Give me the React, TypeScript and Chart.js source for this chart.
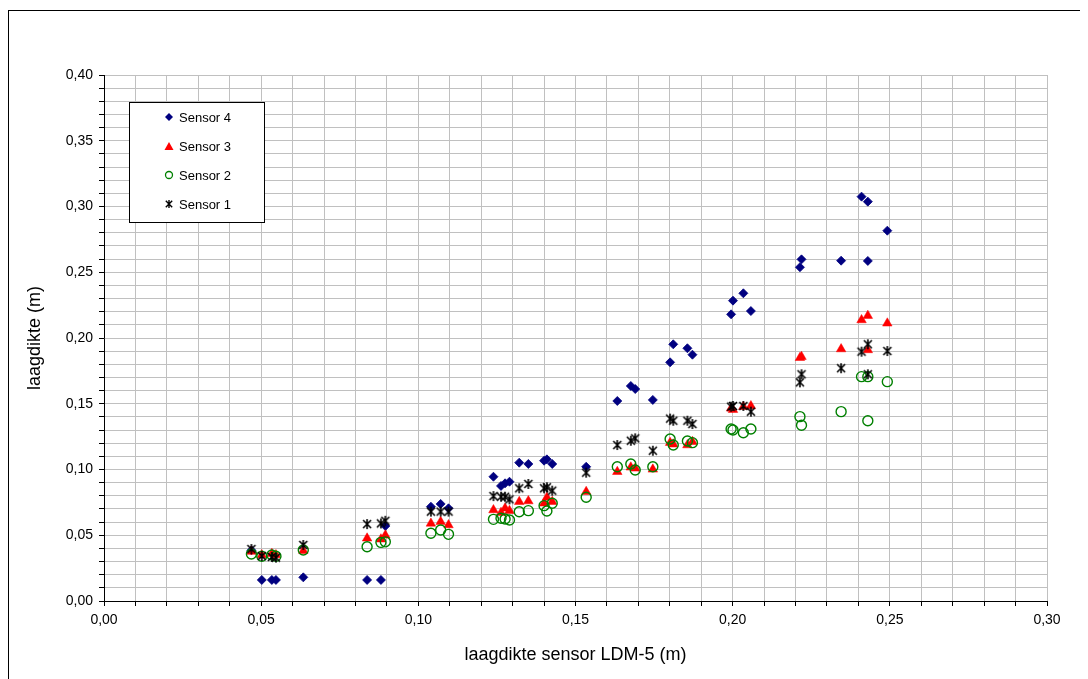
import React, { useEffect, useRef } from 'react';
import { Chart, registerables } from 'chart.js';

Chart.register(...registerables);

// Layer thickness measured by the LDM-5 reference sensor (m)
const ldm5 = [
  0.0469, 0.0502, 0.0534, 0.0547, 0.0634, 0.0837, 0.0881, 0.0895,
  0.1040, 0.1071, 0.1096, 0.1239, 0.1263, 0.1276, 0.1290, 0.1321,
  0.1350, 0.1400, 0.1409, 0.1426, 0.1534, 0.1633, 0.1676, 0.1690,
  0.1746, 0.1801, 0.1811, 0.1856, 0.1872, 0.1995, 0.2001, 0.2034,
  0.2058, 0.2214, 0.2219, 0.2345, 0.2410, 0.2430, 0.2430, 0.2492,
];

// Layer thickness per sensor (m), same order as ldm5
const sensor4 = [
  0.0385, 0.0160, 0.0160, 0.0160, 0.0180, 0.0160, 0.0160, 0.0570,
  0.0717, 0.0738, 0.0705, 0.0945, 0.0875, 0.0895, 0.0907, 0.1052,
  0.1042, 0.1067, 0.1077, 0.1042, 0.1021, 0.1521, 0.1635, 0.1612,
  0.1529, 0.1815, 0.1952, 0.1922, 0.1873, 0.2180, 0.2284, 0.2340,
  0.2205, 0.2538, 0.2598, 0.2588, 0.3075, 0.3037, 0.2586, 0.2816,
];
const sensor3 = [
  0.0376, 0.0350, 0.0360, 0.0350, 0.0383, 0.0477, 0.0470, 0.0500,
  0.0590, 0.0603, 0.0578, 0.0692, 0.0672, 0.0705, 0.0687, 0.0755,
  0.0760, 0.0743, 0.0788, 0.0755, 0.0831, 0.0983, 0.1017, 0.1009,
  0.1001, 0.1204, 0.1192, 0.1186, 0.1211, 0.1465, 0.1455, 0.1478,
  0.1483, 0.1850, 0.1858, 0.1916, 0.2137, 0.2170, 0.1909, 0.2112,
];
const sensor2 = [
  0.0357, 0.0340, 0.0350, 0.0340, 0.0388, 0.0413, 0.0446, 0.0450,
  0.0515, 0.0540, 0.0507, 0.0621, 0.0629, 0.0624, 0.0616, 0.0679,
  0.0687, 0.0725, 0.0684, 0.0743, 0.0789, 0.1021, 0.1042, 0.0996,
  0.1021, 0.1232, 0.1186, 0.1217, 0.1204, 0.1308, 0.1300, 0.1280,
  0.1308, 0.1402, 0.1336, 0.1440, 0.1706, 0.1706, 0.1371, 0.1668,
];
const sensor1 = [
  0.0395, 0.0342, 0.0335, 0.0330, 0.0426, 0.0585, 0.0590, 0.0610,
  0.0680, 0.0680, 0.0680, 0.0798, 0.0793, 0.0793, 0.0773, 0.0857,
  0.0890, 0.0857, 0.0865, 0.0839, 0.0976, 0.1186, 0.1219, 0.1237,
  0.1143, 0.1387, 0.1371, 0.1371, 0.1346, 0.1478, 0.1483, 0.1483,
  0.1440, 0.1663, 0.1724, 0.1770, 0.1896, 0.1952, 0.1724, 0.1901,
];

const seriesNames = ['Sensor 4', 'Sensor 3', 'Sensor 2', 'Sensor 1'];
const xTickLabels = ['0,00', '0,05', '0,10', '0,15', '0,20', '0,25', '0,30'];
const yTickLabels = ['0,00', '0,05', '0,10', '0,15', '0,20', '0,25', '0,30', '0,35', '0,40'];
const xTitle = 'laagdikte sensor LDM-5 (m)';
const yTitle = 'laagdikte (m)';

const NAVY = '#000080';
const RED = '#ff0000';
const GREEN = '#008000';
const BLACK = '#000000';
const GRID = '#c0c0c0';
const FONT = "'Liberation Sans', Arial, sans-serif";

function makeAsterisk(size: number, lw: number): HTMLCanvasElement {
  const c = document.createElement('canvas');
  c.width = size;
  c.height = size;
  const g = c.getContext('2d')!;
  const h = size / 2;
  const r = h - 1;
  g.strokeStyle = BLACK;
  g.lineWidth = lw;
  g.beginPath();
  g.moveTo(h - r * 0.8, h - r * 0.8);
  g.lineTo(h + r * 0.8, h + r * 0.8);
  g.moveTo(h + r * 0.8, h - r * 0.8);
  g.lineTo(h - r * 0.8, h + r * 0.8);
  g.moveTo(h, h - r);
  g.lineTo(h, h + r);
  g.stroke();
  return c;
}

function toPoints(ys: number[]) {
  return ldm5.map((x, i) => ({ x, y: ys[i] }));
}

function drawDiamond(ctx: CanvasRenderingContext2D, x: number, y: number, r: number) {
  ctx.beginPath();
  ctx.moveTo(x, y - r);
  ctx.lineTo(x + r, y);
  ctx.lineTo(x, y + r);
  ctx.lineTo(x - r, y);
  ctx.closePath();
  ctx.fillStyle = NAVY;
  ctx.fill();
}

function drawTriangle(ctx: CanvasRenderingContext2D, x: number, y: number, r: number) {
  ctx.beginPath();
  ctx.moveTo(x, y - r);
  ctx.lineTo(x + r, y + r * 0.8);
  ctx.lineTo(x - r, y + r * 0.8);
  ctx.closePath();
  ctx.fillStyle = RED;
  ctx.fill();
}

function drawRing(ctx: CanvasRenderingContext2D, x: number, y: number, r: number) {
  ctx.beginPath();
  ctx.arc(x, y, r, 0, Math.PI * 2);
  ctx.strokeStyle = GREEN;
  ctx.lineWidth = 1.3;
  ctx.stroke();
}

export default function App() {
  const canvasRef = useRef<HTMLCanvasElement | null>(null);

  useEffect(() => {
    const canvas = canvasRef.current;
    if (!canvas) return;

    const asterisk = makeAsterisk(12, 1.6);
    const legendAsterisk = makeAsterisk(10, 1.4);

    const legendBox = {
      id: 'legendBox',
      afterDraw(chart: Chart) {
        const ctx = chart.ctx;
        const left = 120.5;
        const top = 91.5;
        const w = 135;
        const h = 120;
        ctx.save();
        ctx.fillStyle = '#ffffff';
        ctx.fillRect(left, top, w, h);
        ctx.strokeStyle = BLACK;
        ctx.lineWidth = 1;
        ctx.strokeRect(left, top, w, h);
        const mx = 160;
        const rows = [106, 135.5, 164, 193];
        drawDiamond(ctx, mx, rows[0], 4);
        drawTriangle(ctx, mx, rows[1], 4.5);
        drawRing(ctx, mx, rows[2], 3.5);
        ctx.drawImage(legendAsterisk, mx - 5, rows[3] - 5);
        ctx.fillStyle = BLACK;
        ctx.font = `13px ${FONT}`;
        ctx.textBaseline = 'middle';
        ctx.textAlign = 'left';
        seriesNames.forEach((name, i) => ctx.fillText(name, 170, rows[i] + 1));
        ctx.restore();
      },
    };

    const chart = new Chart(canvas, {
      type: 'scatter',
      data: {
        datasets: [
          {
            label: seriesNames[0],
            data: toPoints(sensor4),
            pointStyle: 'rectRot',
            pointRadius: 4.5,
            backgroundColor: NAVY,
            borderColor: NAVY,
            borderWidth: 0.8,
            order: 4,
          },
          {
            label: seriesNames[1],
            data: toPoints(sensor3),
            pointStyle: 'triangle',
            pointRadius: 5.5,
            backgroundColor: RED,
            borderColor: RED,
            borderWidth: 0.5,
            order: 3,
          },
          {
            label: seriesNames[2],
            data: toPoints(sensor2),
            pointStyle: 'circle',
            pointRadius: 5,
            backgroundColor: 'rgba(0,0,0,0)',
            borderColor: GREEN,
            borderWidth: 1.4,
            order: 2,
          },
          {
            label: seriesNames[3],
            data: toPoints(sensor1),
            pointStyle: asterisk,
            pointRadius: 5,
            backgroundColor: BLACK,
            borderColor: BLACK,
            order: 1,
          },
        ],
      },
      options: {
        animation: false,
        responsive: false,
        events: [],
        layout: { padding: { top: 64, right: 38, left: 0, bottom: 0 } },
        plugins: {
          legend: { display: false },
          tooltip: { enabled: false },
        },
        scales: {
          x: {
            type: 'linear',
            min: 0,
            max: 0.3,
            afterFit: (s: any) => {
              s.height = 80;
            },
            ticks: {
              stepSize: 0.01,
              autoSkip: false,
              maxRotation: 0,
              padding: 6,
              color: BLACK,
              font: { family: FONT, size: 14 },
              callback: (v: any) => {
                const n = Math.round(Number(v) * 100);
                return n % 5 === 0 ? xTickLabels[n / 5] : '';
              },
            },
            grid: { color: GRID, lineWidth: 1, tickColor: BLACK, tickLength: 5 },
            border: { color: BLACK, width: 1 },
            title: {
              display: true,
              text: xTitle,
              color: BLACK,
              font: { family: FONT, size: 18 },
              padding: { top: 0, bottom: 15 },
            },
          },
          y: {
            type: 'linear',
            min: 0,
            max: 0.4,
            afterFit: (s: any) => {
              s.width = 95;
            },
            ticks: {
              stepSize: 0.01,
              autoSkip: false,
              padding: 6,
              color: BLACK,
              font: { family: FONT, size: 14 },
              callback: (v: any) => {
                const n = Math.round(Number(v) * 100);
                return n % 5 === 0 ? yTickLabels[n / 5] : '';
              },
            },
            grid: { color: GRID, lineWidth: 1, tickColor: BLACK, tickLength: 5 },
            border: { color: BLACK, width: 1 },
            title: {
              display: true,
              text: yTitle,
              color: BLACK,
              font: { family: FONT, size: 18 },
              padding: { top: 15, bottom: 0 },
            },
          },
        },
      },
      plugins: [legendBox],
    });

    return () => chart.destroy();
  }, []);

  return (
    <div
      style={{
        position: 'relative',
        top: 2,
        width: 1076,
        height: 670,
        border: '1px solid #000',
        background: '#fff',
      }}
    >
      <canvas ref={canvasRef} width={1076} height={670} style={{ display: 'block' }} />
    </div>
  );
}
